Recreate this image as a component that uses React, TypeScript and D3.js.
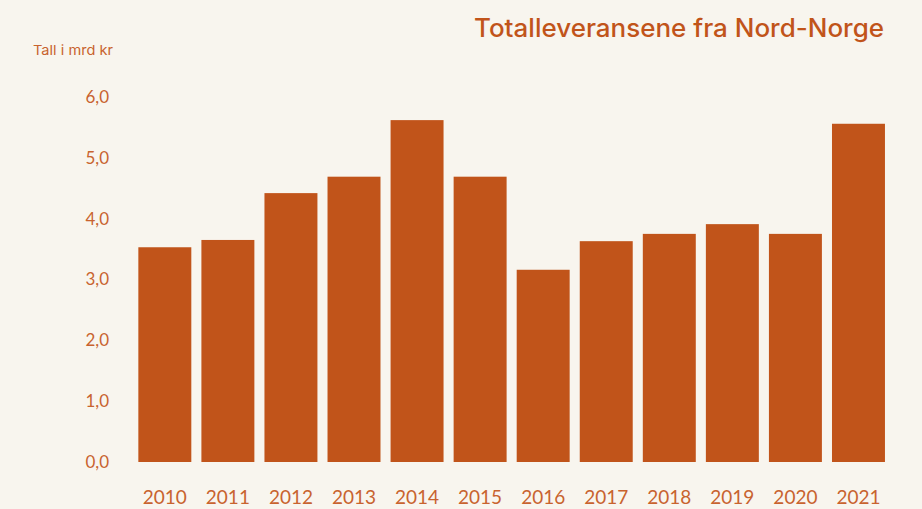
import React, { useEffect } from "react";
import { scaleBand, scaleLinear } from "d3";

const years = ["2010", "2011", "2012", "2013", "2014", "2015", "2016", "2017", "2018", "2019", "2020", "2021"];
const values = [3.53, 3.65, 4.42, 4.69, 5.62, 4.69, 3.16, 3.63, 3.75, 3.91, 3.75, 5.56];
const yTicks = [0, 1, 2, 3, 4, 5, 6];

const W = 922;
const H = 509;
const BAR = "#c1541a";
const TEXT = "#c8632f";
const FONT = "Lato, 'Open Sans', sans-serif";
const TITLE_FONT = "Inter, 'Open Sans', sans-serif";

const App = () => {
  useEffect(() => {
    document.body.style.margin = "0";
  }, []);

  const x = scaleBand<string>()
    .domain(years)
    .range([133.3, 890])
    .paddingInner(0.16)
    .paddingOuter(0.08);

  const y = scaleLinear().domain([0, 6]).range([462, 97]);

  return (
    <svg width={W} height={H} style={{ display: "block", background: "#f8f5ee" }}>
      <rect width={W} height={H} fill="#f8f5ee" />
      <text
        x={884}
        y={37}
        textAnchor="end"
        fill={BAR}
        fontFamily={TITLE_FONT}
        fontSize={25}
        fontWeight={500}
        textLength={410}
        lengthAdjust="spacingAndGlyphs"
      >
        Totalleveransene fra Nord-Norge
      </text>
      <text x={33} y={55} fill={TEXT} fontFamily={TITLE_FONT} fontSize={13.5} textLength={80} lengthAdjust="spacingAndGlyphs">
        Tall i mrd kr
      </text>
      {yTicks.map((t) => (
        <text
          key={t}
          x={109}
          y={y(t)}
          dy="0.35em"
          textAnchor="end"
          fill={TEXT}
          fontFamily={FONT}
          fontSize={17}
        >
          {t.toFixed(1).replace(".", ",")}
        </text>
      ))}
      {values.map((v, i) => (
        <rect
          key={years[i]}
          x={x(years[i])}
          y={y(v)}
          width={x.bandwidth()}
          height={y(0) - y(v)}
          fill={BAR}
        />
      ))}
      {years.map((yr) => (
        <text
          key={yr}
          x={(x(yr) ?? 0) + x.bandwidth() / 2}
          y={504}
          textAnchor="middle"
          fill={TEXT}
          fontFamily={FONT}
          fontSize={19}
        >
          {yr}
        </text>
      ))}
    </svg>
  );
};

export default App;
